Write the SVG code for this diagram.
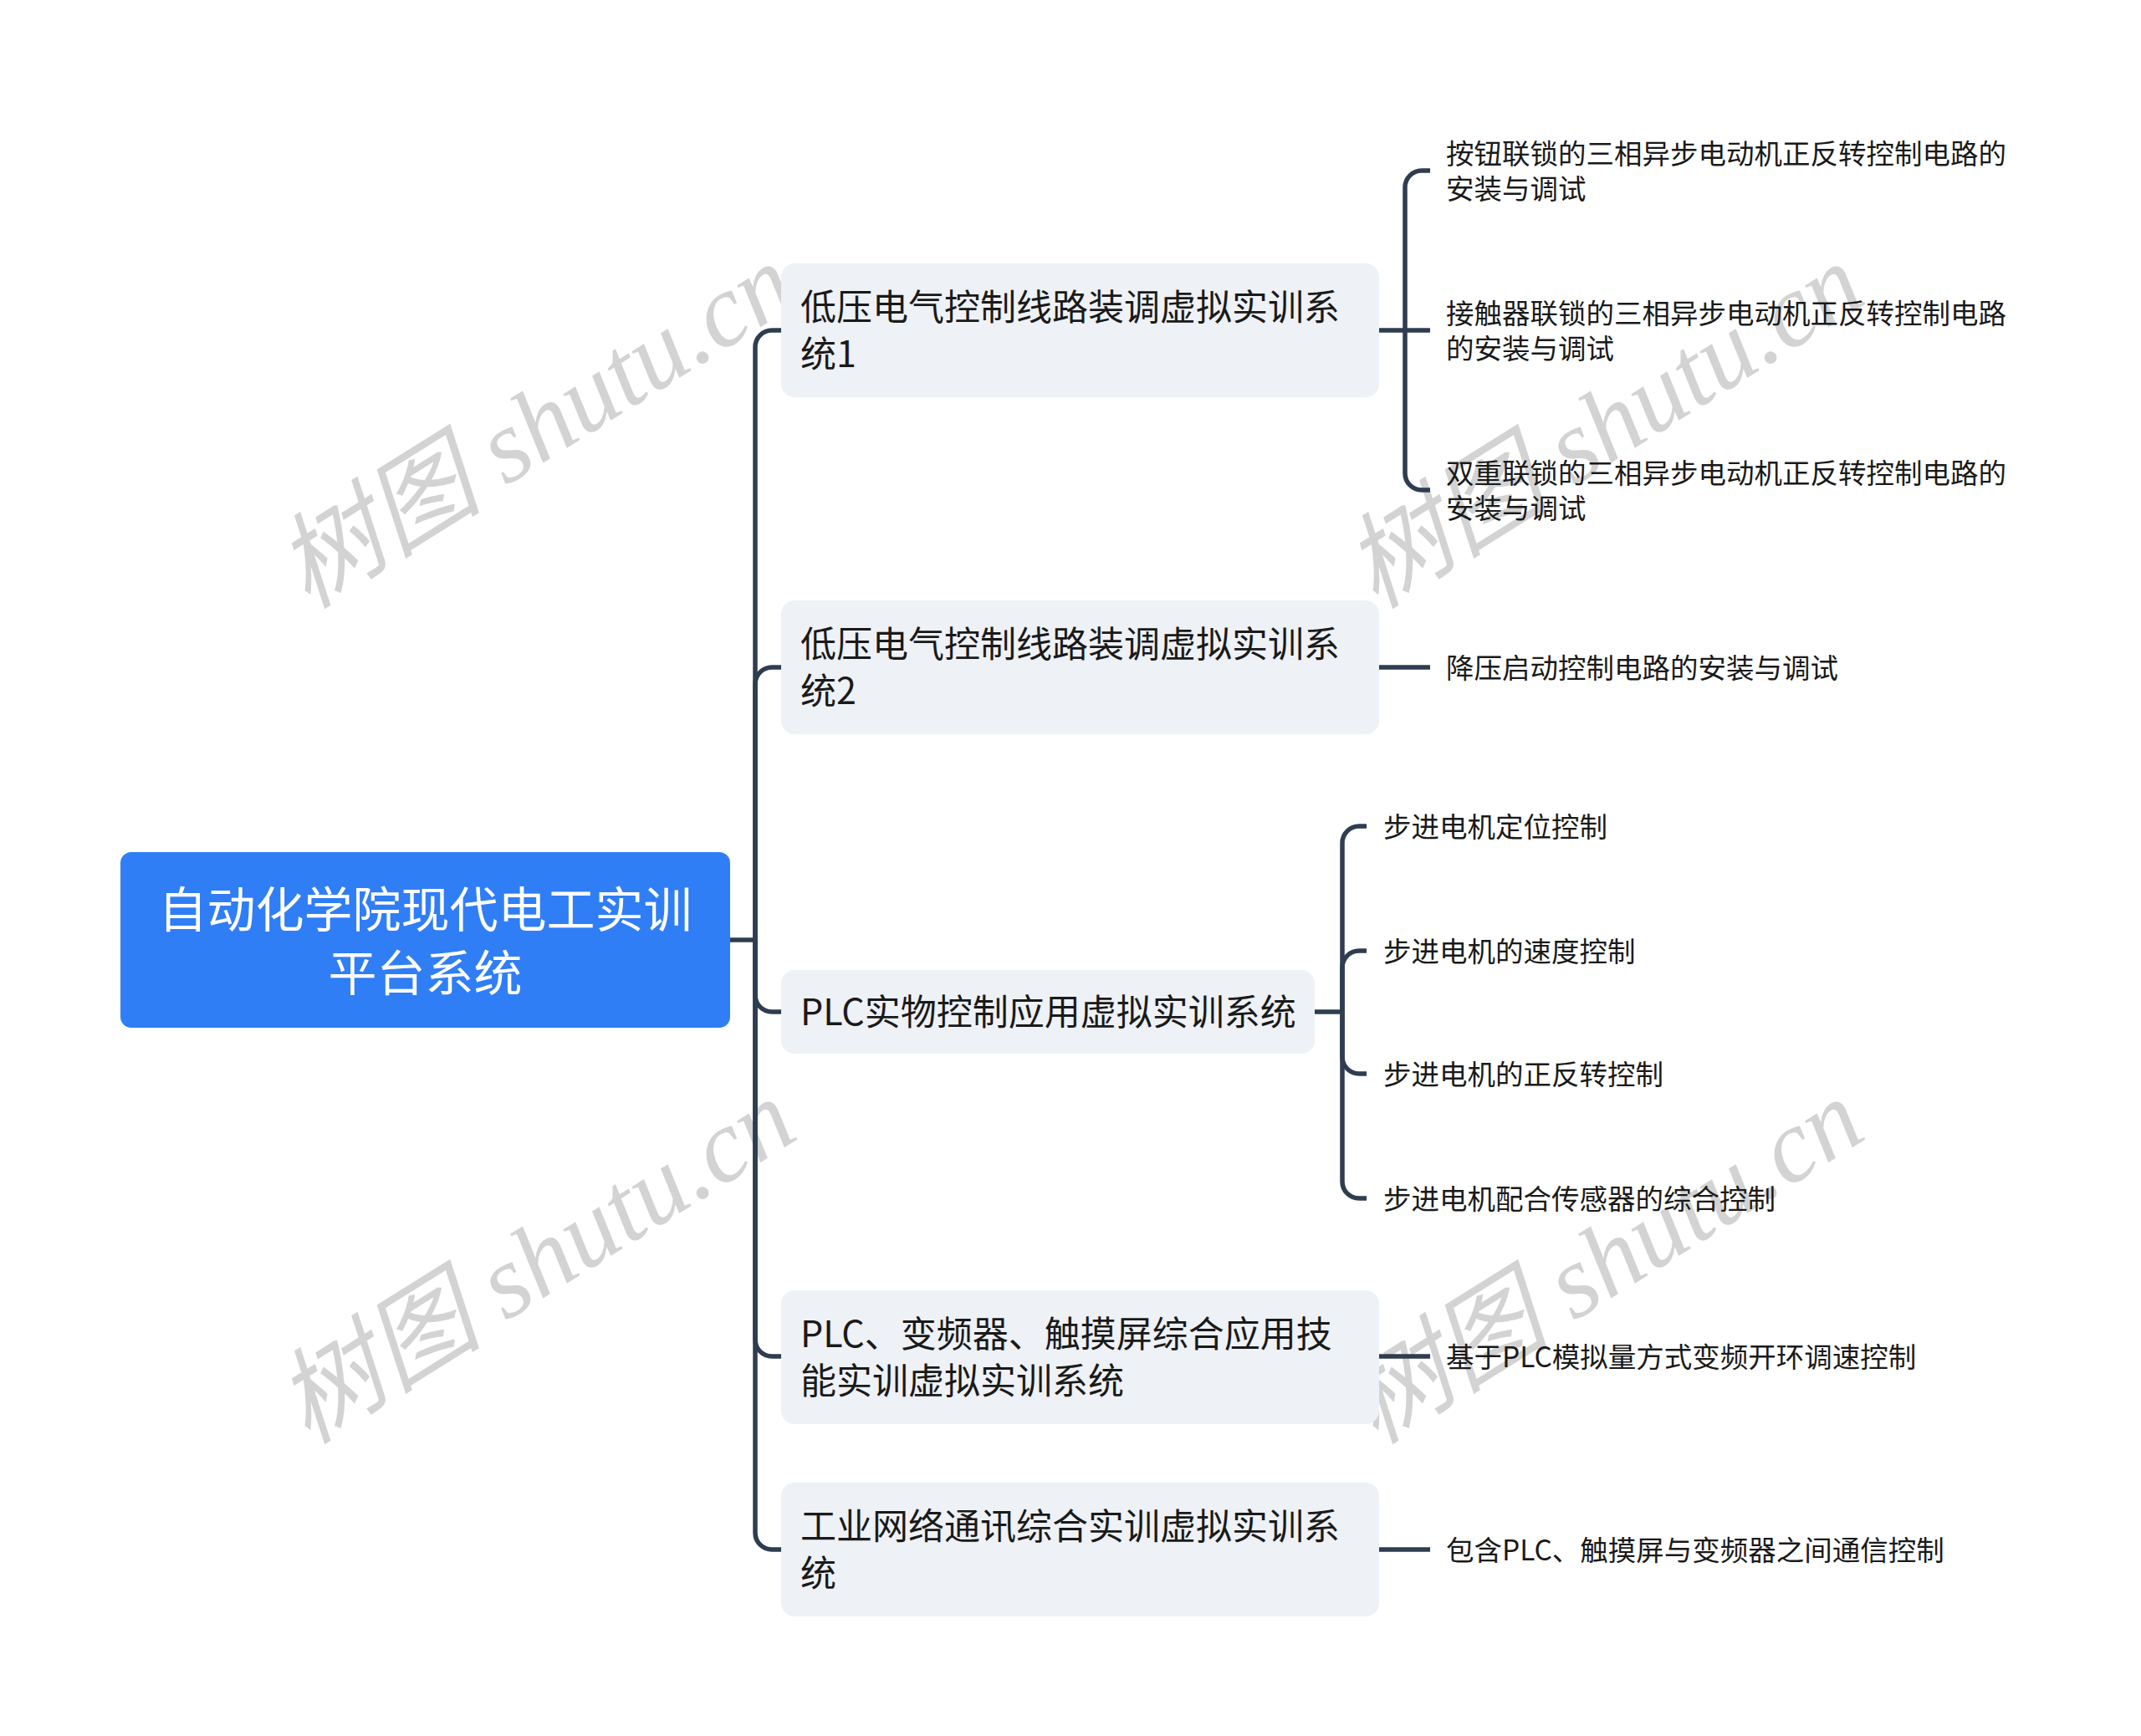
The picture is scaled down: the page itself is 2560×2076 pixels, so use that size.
<svg xmlns="http://www.w3.org/2000/svg" width="2560" height="2076" viewBox="0 0 2560 2076">
<style>
.wm{font-family:"Liberation Serif","Noto Sans CJK SC",serif;font-size:124px;font-style:italic;fill:#d3d3d3;text-anchor:middle}
.root{fill:#307ef6}
.rt{font-family:"Noto Sans CJK SC","Noto Sans",sans-serif;font-size:58px;fill:#ffffff;text-anchor:middle}
.n1{fill:#eef1f5}
.t1{font-family:"Noto Sans CJK SC","Noto Sans",sans-serif;font-size:43px;fill:#1a1a1a}
.t2{font-family:"Noto Sans CJK SC","Noto Sans",sans-serif;font-size:33.5px;fill:#1a1a1a}
.ln{fill:none;stroke:#2e3d50;stroke-width:5.5}
</style>
<rect width="2560" height="2076" fill="#ffffff"/>
<g id="watermarks">
<text class="wm" transform="translate(663,545) rotate(-32)">树图 shutu.cn</text>
<text class="wm" transform="translate(1940,545) rotate(-32)">树图 shutu.cn</text>
<text class="wm" transform="translate(663,1544) rotate(-32)">树图 shutu.cn</text>
<text class="wm" transform="translate(1940,1544) rotate(-32)">树图 shutu.cn</text>
</g>
<g id="connectors">
<path class="ln" d="M873,1124 H903"/>
<path class="ln" d="M903,1124 V415 A20,20 0 0 1 923,395 H934"/>
<path class="ln" d="M903,1124 V818 A20,20 0 0 1 923,798 H934"/>
<path class="ln" d="M903,1124 V1190 A20,20 0 0 0 923,1210 H934"/>
<path class="ln" d="M903,1124 V1602 A20,20 0 0 0 923,1622 H934"/>
<path class="ln" d="M903,1124 V1833 A20,20 0 0 0 923,1853 H934"/>
<path class="ln" d="M1649,395 H1680"/>
<path class="ln" d="M1680,395 V224 A20,20 0 0 1 1700,204 H1710"/>
<path class="ln" d="M1680,395 H1710"/>
<path class="ln" d="M1680,395 V566 A20,20 0 0 0 1700,586 H1710"/>
<path class="ln" d="M1649,798 H1710"/>
<path class="ln" d="M1572,1210 H1605"/>
<path class="ln" d="M1605,1210 V1008 A20,20 0 0 1 1625,988 H1634"/>
<path class="ln" d="M1605,1210 V1157 A20,20 0 0 1 1625,1137 H1634"/>
<path class="ln" d="M1605,1210 V1264 A20,20 0 0 0 1625,1284 H1634"/>
<path class="ln" d="M1605,1210 V1413 A20,20 0 0 0 1625,1433 H1634"/>
<path class="ln" d="M1649,1622 H1710"/>
<path class="ln" d="M1649,1853 H1710"/>
</g>
<g id="root">
<rect class="root" x="144" y="1019" width="729" height="210" rx="13"/>
<text class="rt" x="508.5" y="1109">自动化学院现代电工实训</text>
<text class="rt" x="508.5" y="1185">平台系统</text>
</g>
<g id="n1">
<rect class="n1" x="934" y="315" width="715" height="160" rx="16"/>
<text class="t1" x="957" y="383">低压电气控制线路装调虚拟实训系</text>
<text class="t1" x="957" y="439">统1</text>
</g>
<g id="n2">
<rect class="n1" x="934" y="718" width="715" height="160" rx="16"/>
<text class="t1" x="957" y="786">低压电气控制线路装调虚拟实训系</text>
<text class="t1" x="957" y="842">统2</text>
</g>
<g id="n3">
<rect class="n1" x="934" y="1160" width="638" height="100" rx="16"/>
<text class="t1" x="957" y="1226">PLC实物控制应用虚拟实训系统</text>
</g>
<g id="n4">
<rect class="n1" x="934" y="1543" width="715" height="160" rx="16"/>
<text class="t1" x="957" y="1611">PLC、变频器、触摸屏综合应用技</text>
<text class="t1" x="957" y="1667">能实训虚拟实训系统</text>
</g>
<g id="n5">
<rect class="n1" x="934" y="1773" width="715" height="160" rx="16"/>
<text class="t1" x="957" y="1841">工业网络通讯综合实训虚拟实训系</text>
<text class="t1" x="957" y="1897">统</text>
</g>
<g id="l1a">
<text class="t2" x="1729" y="196">按钮联锁的三相异步电动机正反转控制电路的</text>
<text class="t2" x="1729" y="238">安装与调试</text>
</g>
<g id="l1b">
<text class="t2" x="1729" y="387">接触器联锁的三相异步电动机正反转控制电路</text>
<text class="t2" x="1729" y="429">的安装与调试</text>
</g>
<g id="l1c">
<text class="t2" x="1729" y="578">双重联锁的三相异步电动机正反转控制电路的</text>
<text class="t2" x="1729" y="620">安装与调试</text>
</g>
<g id="l2a">
<text class="t2" x="1729" y="811">降压启动控制电路的安装与调试</text>
</g>
<g id="l3a">
<text class="t2" x="1654" y="1001">步进电机定位控制</text>
</g>
<g id="l3b">
<text class="t2" x="1654" y="1150">步进电机的速度控制</text>
</g>
<g id="l3c">
<text class="t2" x="1654" y="1297">步进电机的正反转控制</text>
</g>
<g id="l3d">
<text class="t2" x="1654" y="1446">步进电机配合传感器的综合控制</text>
</g>
<g id="l4a">
<text class="t2" x="1729" y="1635">基于PLC模拟量方式变频开环调速控制</text>
</g>
<g id="l5a">
<text class="t2" x="1729" y="1866">包含PLC、触摸屏与变频器之间通信控制</text>
</g>
</svg>
